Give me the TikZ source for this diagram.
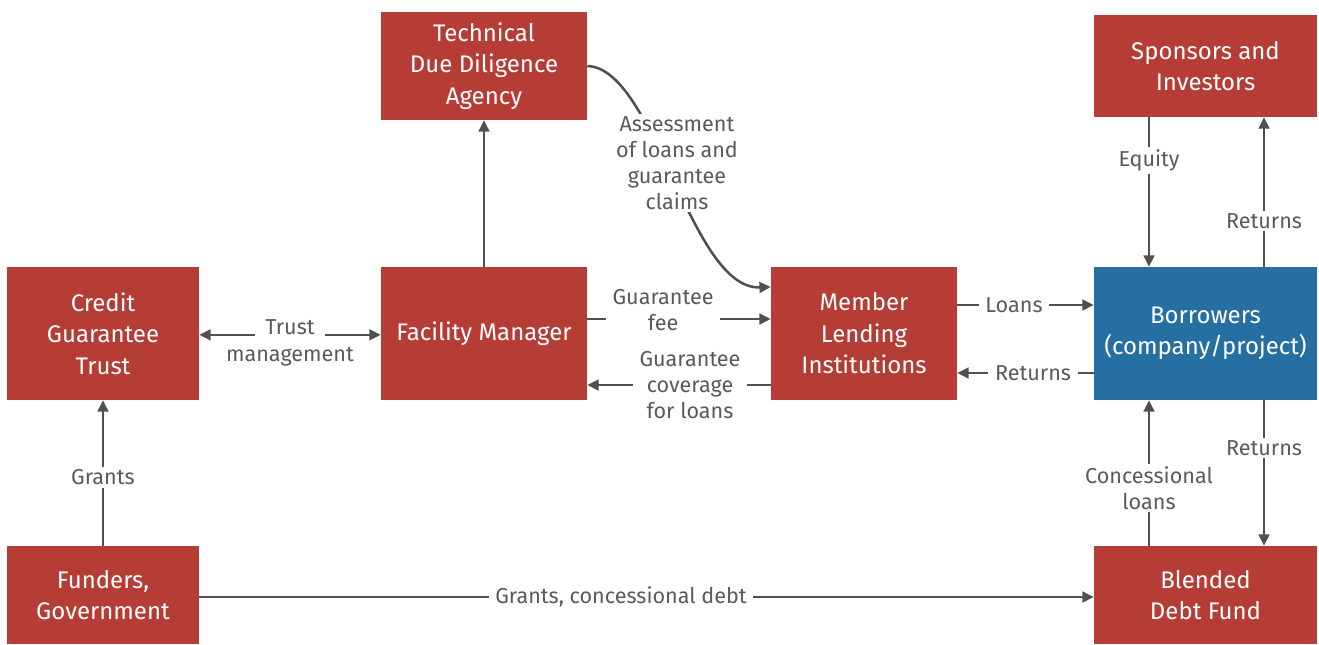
\documentclass[tikz,border=0pt]{standalone}
\usepackage{fontspec}
\setmainfont{Fira Sans}
\usetikzlibrary{arrows.meta}
\definecolor{boxred}{HTML}{B53D35}
\definecolor{boxblue}{HTML}{256FA3}
\definecolor{arrcol}{HTML}{505050}
\definecolor{lblcol}{HTML}{5A5A5A}
\begin{document}
\begin{tikzpicture}[x=0.75pt,y=-0.75pt,
  box/.style={fill=boxred, text=white, align=center, inner sep=0pt,
    font=\fontsize{18}{23.6}\selectfont},
  bluebox/.style={box, fill=boxblue},
  wideA/.style={minimum width=154.5pt},
  wideB/.style={minimum width=167.25pt},
  wideC/.style={minimum width=144pt},
  wideD/.style={minimum width=139.5pt},
  tall/.style={minimum height=99.75pt},
  conn/.style={draw=arrcol, line width=1.9pt, -{Triangle[length=8.5pt,width=8pt]}},
  labtext/.style={text=lblcol, align=center, inner sep=2pt,
    font=\fontsize{16.2}{19.5}\selectfont},
  lab/.style={labtext, fill=white, inner xsep=5pt}
]
\useasboundingbox (0,0) rectangle (1319,644);

\node[box, wideA, minimum height=81pt] (tdd) at (484,66) {Technical\\Due Diligence\\Agency};
\node[box, wideB, minimum height=76.5pt] (spon) at (1205.5,66) {Sponsors and\\Investors};
\node[box, wideC, tall] (cgt) at (103,333.5) {Credit\\Guarantee\\Trust};
\node[box, wideA, tall] (fm) at (484,333.5) {Facility Manager};
\node[box, wideD, tall] (mli) at (864,333.5) {Member\\Lending\\Institutions};
\node[bluebox, wideB, tall] (borr) at (1205.5,333.5) {Borrowers\\(company/project)};
\node[box, wideC, minimum height=73.5pt] (fund) at (103,595) {Funders,\\Government};
\node[box, wideB, minimum height=73.5pt] (bdf) at (1205.5,595) {Blended\\Debt Fund};

% Facility manager to TDD
\draw[conn] (fm.north) -- (tdd.south);
% Assessment curve
\draw[conn] (tdd.east) .. controls (655,68) and (690,290) .. ([yshift=34.875pt]mli.west);
\node[lab] (assess) at (677,163) {Assessment\\of loans and\\guarantee\\claims};
% Trust management
\draw[conn, {Triangle[length=8.5pt,width=8pt]}-{Triangle[length=8.5pt,width=8pt]}] ([yshift=-1pt]cgt.east) -- node[lab, pos=0.5, inner xsep=8pt, yshift=5.5pt, label={[labtext, label distance=3.5pt]below:management}] {Trust} ([yshift=-1pt]fm.west);
% Guarantee fee
\draw[conn] ([yshift=10.875pt]fm.east) -- node[lab, pos=0.413, yshift=7pt] {Guarantee\\fee} ([yshift=10.875pt]mli.west);
% Guarantee coverage
\draw[conn] ([yshift=-38.625pt]mli.west) -- node[lab, pos=0.44] {Guarantee\\coverage\\for loans} ([yshift=-38.625pt]fm.east);
% Loans
\draw[conn] ([yshift=21.375pt]mli.east) -- node[lab, pos=0.416] {Loans} ([yshift=21.375pt]borr.west);
% Returns to MLI
\draw[conn] ([yshift=-29.625pt]borr.west) -- node[lab, pos=0.445] {Returns} ([yshift=-29.625pt]mli.east);
% Equity
\draw[conn] ([xshift=-42.375pt]spon.south) -- node[lab, pos=0.287] {Equity} ([xshift=-42.375pt]borr.north);
% Returns to sponsors
\draw[conn] ([xshift=43.875pt]borr.north) -- node[lab, pos=0.307] {Returns} ([xshift=43.875pt]spon.south);
% Concessional loans
\draw[conn] ([xshift=-42.375pt]bdf.north) -- node[lab, pos=0.397] {Concessional\\loans} ([xshift=-42.375pt]borr.south);
% Returns to BDF
\draw[conn] ([xshift=43.875pt]borr.south) -- node[lab, pos=0.329] {Returns} ([xshift=43.875pt]bdf.north);
% Grants
\draw[conn] (fund.north) -- node[lab, pos=0.47] {Grants} (cgt.south);
% Grants, concessional debt
\draw[conn] ([yshift=-1.5pt]fund.east) -- node[lab, pos=0.4715] {Grants, concessional debt} ([yshift=-1.5pt]bdf.west);
\end{tikzpicture}
\end{document}
